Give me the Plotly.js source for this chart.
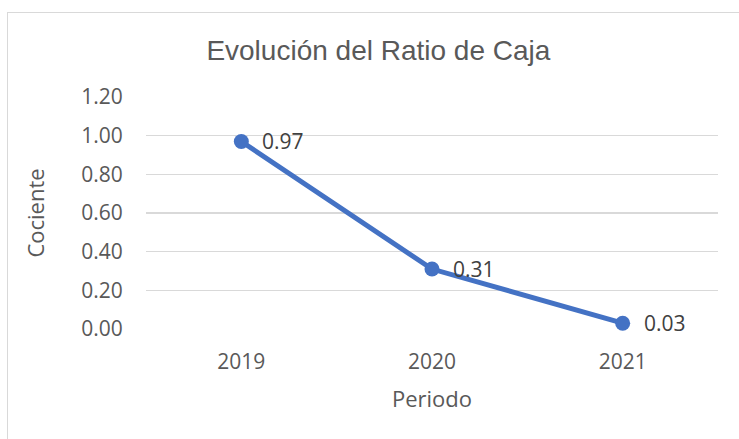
<!DOCTYPE html>
<html>
<head>
<meta charset="utf-8">
<script src="https://cdn.plot.ly/plotly-3.0.1.min.js"></script>
<style>
  body { margin: 0; background: #fff; }
  #wrap { position: relative; width: 739px; height: 439px; overflow: hidden; }
  #frame { position: absolute; left: 7px; top: 12px; width: 760px; height: 460px;
           border: 1px solid #d9d9d9; box-sizing: border-box; pointer-events: none; }
  #chart { position: absolute; left: 0; top: 0; width: 739px; height: 439px; }
</style>
</head>
<body>
<div id="wrap">
  <div id="chart"></div>
  <div id="frame"></div>
</div>
<script>
var periods = ['2019', '2020', '2021'];
var ratio = [0.97, 0.31, 0.03];
var tickVals = [0, 0.2, 0.4, 0.6, 0.8, 1.0, 1.2];

var trace1 = {
  x: periods,
  y: ratio,
  type: 'scatter',
  mode: 'lines+markers',
  line: { color: '#4472C4', width: 5 },
  marker: { color: '#4472C4', size: 15 },
  hoverinfo: 'none',
  cliponaxis: false
};

// data labels to the right of each point (category index on x)
var labels = periods.map(function (p, i) {
  return {
    x: i,
    y: ratio[i],
    text: ratio[i].toFixed(2),
    showarrow: false,
    xanchor: 'left',
    yanchor: 'middle',
    xshift: 19,
    font: { family: 'Open Sans', size: 21, color: '#404040' }
  };
});

var layout = {
  width: 739,
  height: 439,
  showlegend: false,
  paper_bgcolor: 'rgba(0,0,0,0)',
  plot_bgcolor: 'rgba(0,0,0,0)',
  margin: { l: 146, r: 21, t: 97, b: 110 },
  title: {
    text: 'Evolución del Ratio de Caja',
    font: { family: 'Liberation Sans', size: 28, color: '#595959' },
    x: 0.512,
    xanchor: 'center',
    y: 0.886,
    yanchor: 'middle'
  },
  annotations: labels,
  xaxis: {
    type: 'category',
    range: [-0.5, 2.5],
    showgrid: false,
    zeroline: false,
    showline: false,
    ticks: 'outside',
    ticklen: 14,
    tickcolor: 'rgba(0,0,0,0)',
    tickfont: { family: 'Open Sans', size: 21, color: '#595959' },
    title: {
      text: 'Periodo',
      standoff: 17,
      font: { family: 'Open Sans', size: 22, color: '#595959' }
    }
  },
  yaxis: {
    range: [0, 1.2],
    tickvals: tickVals,
    tickformat: '.2f',
    showgrid: true,
    gridcolor: '#d9d9d9',
    gridwidth: 1.5,
    zeroline: false,
    showline: false,
    ticks: 'outside',
    ticklen: 18,
    tickcolor: 'rgba(0,0,0,0)',
    tickfont: { family: 'Open Sans', size: 21, color: '#595959' },
    title: {
      text: 'Cociente',
      standoff: 30,
      font: { family: 'Open Sans', size: 22, color: '#595959' }
    }
  }
};

var config = { staticPlot: true };

Plotly.newPlot('chart', [trace1], layout, config);
</script>
</body>
</html>
